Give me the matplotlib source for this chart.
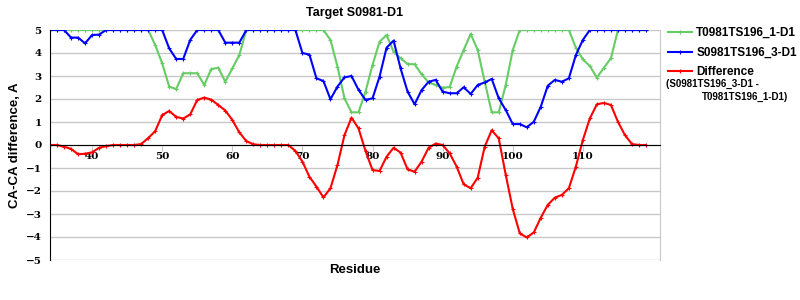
import matplotlib
matplotlib.use('Agg')
import matplotlib.pyplot as plt

residues = list(range(34, 120))

t0981 = [5, 5, 5, 5, 5, 5, 5, 5, 5, 5, 5, 5, 5, 5, 5,
         4.35, 3.55, 2.54, 2.43, 3.12, 3.12, 3.12, 2.61, 3.3, 3.36, 2.75,
         3.33, 3.91, 5, 5, 5, 5, 5, 5, 5, 5, 5, 5, 5, 5,
         4.57, 3.41, 2.03, 1.42, 1.42, 2.32, 3.48, 4.49, 4.78, 4.06,
         3.77, 3.52, 3.51, 3.07, 2.72, 2.61, 2.49, 2.52, 3.41, 4.13,
         4.83, 4.13, 2.75, 1.42, 1.42, 2.61, 4.13, 5, 5, 5,
         5, 5, 5, 5, 5, 4.23, 3.72, 3.43, 2.93, 3.36,
         3.77, 5, 5, 5, 5, 5]

s0981 = [5, 5, 5, 4.67, 4.67, 4.42, 4.78, 4.8, 5, 5,
         5, 5, 5, 5, 5, 5, 5, 4.2, 3.74, 3.74,
         4.57, 5, 5, 5, 5, 4.45, 4.45, 4.45, 5, 5,
         5, 5, 5, 5, 5, 5, 4.0, 3.93, 2.9, 2.78,
         1.99, 2.54, 2.94, 3.0, 2.4, 1.96, 2.03, 2.97, 4.23, 4.54,
         3.33, 2.32, 1.77, 2.39, 2.75, 2.83, 2.32, 2.25, 2.25, 2.51,
         2.22, 2.61, 2.72, 2.87, 2.03, 1.52, 0.91, 0.91, 0.77, 1.01,
         1.67, 2.58, 2.83, 2.75, 2.9, 3.91, 4.57, 5, 5, 5,
         5, 5, 5, 5, 5, 5]

diff = [0, 0, -0.07, -0.17, -0.4, -0.38, -0.32, -0.12, -0.05, 0,
        0, 0, 0, 0.04, 0.3, 0.6, 1.3, 1.48, 1.22, 1.15,
        1.33, 1.96, 2.06, 1.97, 1.74, 1.5, 1.09, 0.55, 0.17, 0.03,
        0, 0, 0, 0, 0, -0.26, -0.72, -1.38, -1.81, -2.28,
        -1.88, -0.87, 0.43, 1.19, 0.72, -0.26, -1.09, -1.13, -0.51, -0.12,
        -0.33, -1.06, -1.16, -0.72, -0.12, 0.06, 0, -0.36, -0.94, -1.71,
        -1.88, -1.42, -0.07, 0.64, 0.29, -1.3, -2.78, -3.84, -4.02, -3.8,
        -3.16, -2.6, -2.29, -2.17, -1.88, -0.94, 0.22, 1.16, 1.77, 1.83,
        1.74, 1.01, 0.43, 0.04, 0, 0]

fig = plt.figure(figsize=(8, 3), dpi=100)
ax = fig.add_axes([50 / 800, 40 / 300, 610 / 800, 230 / 300])

style = dict(marker='+', markersize=3, markeredgewidth=0.8, linewidth=1.5)
l1, = ax.plot(residues, t0981, color='#66cc66', label='T0981TS196_1-D1', **style)
l2, = ax.plot(residues, s0981, color='#0000ff', label='S0981TS196_3-D1', **style)
l3, = ax.plot(residues, diff, color='#ff0000', label='Difference', **style)

ax.set_xlim(34, 121)
ax.set_ylim(-5, 5)
ax.set_yticks(range(-5, 6))
ax.set_xticks(range(40, 120, 10))
ax.grid(axis='y', color='#c8c8c8', linewidth=1)
ax.set_axisbelow(True)

ax.spines['bottom'].set_position(('data', 0))
ax.spines['bottom'].set_color('black')
ax.spines['top'].set_visible(False)
ax.spines['right'].set_color('#c8c8c8')
ax.spines['left'].set_color('black')
ax.tick_params(axis='x', direction='out', length=4, color='#c8c8c8', pad=1)
ax.tick_params(axis='y', length=0, pad=6)
ax.set_yticklabels(['\u22125', '\u22124', '\u22123', '\u22122', '\u22121',
                    '0', '1', '2', '3', '4', '5'])
for lab in ax.get_xticklabels() + ax.get_yticklabels():
    lab.set_fontweight('bold')
    lab.set_fontsize(7.5)
    lab.set_family('DejaVu Serif')

fig.text(355 / 800, 1 - 13 / 300, 'Target S0981-D1', ha='center', va='center',
         fontsize=9, fontweight='bold', family='Liberation Sans')
fig.text(355 / 800, 1 - 270 / 300, 'Residue', ha='center', va='center',
         fontsize=9.5, fontweight='bold', family='Liberation Sans')
fig.text(15 / 800, 1 - 145 / 300, 'CA-CA difference, A', ha='center', va='center',
         rotation=90, fontsize=9.5, fontweight='bold', family='Liberation Sans')

leg = fig.legend(handles=[l1, l2, l3], loc='upper left',
                 bbox_to_anchor=(668 / 800, 1 - 27 / 300), frameon=False,
                 prop={'family': 'Liberation Sans', 'weight': 'bold', 'size': 8.5},
                 handlelength=2.0, handletextpad=0.4, labelspacing=0.65,
                 borderaxespad=0, borderpad=0)
fig.text(666 / 800, 1 - 84 / 300, '(S0981TS196_3-D1 -', ha='left', va='center',
         fontsize=7, fontweight='bold', family='Liberation Sans')
fig.text(702 / 800, 1 - 97 / 300, 'T0981TS196_1-D1)', ha='left', va='center',
         fontsize=7, fontweight='bold', family='Liberation Sans')

fig.savefig('out.png', dpi=100)
